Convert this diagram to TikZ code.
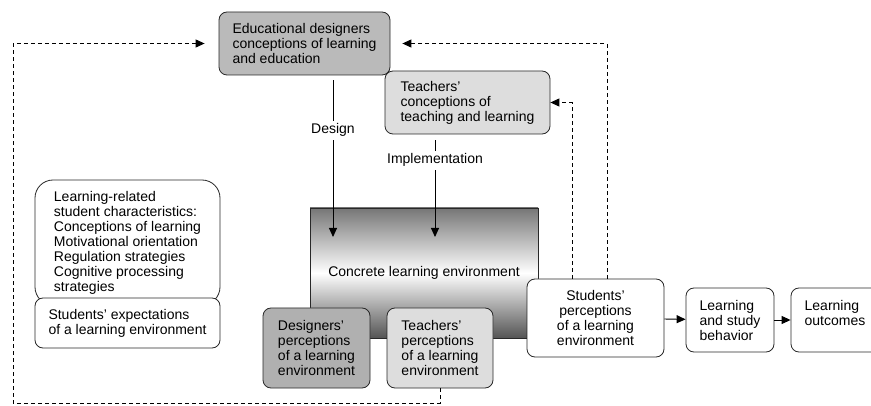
\documentclass[tikz,border=0pt]{standalone}
\usepackage{fontspec}
\setmainfont{Liberation Sans}
\usepackage{xcolor}
\usepackage{tikz}
\usetikzlibrary{arrows.meta, positioning, shadings}
\definecolor{darkbox}{RGB}{186, 186, 186}
\definecolor{midbox}{RGB}{176, 176, 176}
\definecolor{lightbox}{RGB}{221, 221, 221}
\definecolor{shadetop}{RGB}{118, 118, 118}
\definecolor{shadebot}{RGB}{84, 84, 84}
\definecolor{edge}{RGB}{40, 40, 40}

\begin{document}
\begin{tikzpicture}[
    x=1pt, y=-1pt,
    font=\fontsize{14}{15}\selectfont,
    box/.style={rectangle, draw=edge, line width=0.8pt, rounded corners=8pt, fill=#1, align=left, inner sep=0pt},
    box/.default=white,
    lbl/.style={fill=white, inner sep=3pt},
    arrow/.style={-{Triangle[length=9pt, width=8pt]}, line width=0.9pt},
    dasharrow/.style={-{Triangle[length=9pt, width=8pt]}, line width=1pt, dash pattern=on 4pt off 3pt}
]
    \useasboundingbox (0,0) rectangle (871,406);

    % concrete environment in the middle
    \node[rectangle, draw=edge, line width=0.8pt, minimum width=228pt, minimum height=130pt,
          top color=shadetop, bottom color=shadebot, middle color=white] (concrete) at (424,273) {Concrete learning environment};

    % conceptions at the top
    \node[box=darkbox, minimum width=171pt, minimum height=63pt] (edu) at (304.5,43.5) {Educational designers\\conceptions of learning\\and education};
    \node[box=lightbox, minimum width=165pt, minimum height=63pt] (tconc) at (467.5,102.5) {Teachers'\\conceptions of\\teaching and learning};

    % student characteristics
    \node[box, rounded corners=18pt, minimum width=185pt, minimum height=125pt] (learnchar) at (127.5,242.5) {Learning-related\\student characteristics:\\Conceptions of learning\\Motivational orientation\\Regulation strategies\\Cognitive processing\\strategies};
    \node[box, minimum width=185pt, minimum height=50pt] (expect) at (127.5,323) {Students' expectations\\of a learning environment};

    % perceptions
    \node[box=midbox, minimum width=107pt, minimum height=80pt] (dpercep) at (316.5,348) {Designers'\\perceptions\\of a learning\\environment};
    \node[box=lightbox, minimum width=106pt, minimum height=80pt] (tpercep) at (440,348) {Teachers'\\perceptions\\of a learning\\environment};
    \node[box, align=center, minimum width=137pt, minimum height=78pt] (spercep) at (595.5,318) {Students'\\perceptions\\of a learning\\environment};
    \node[box, minimum width=88pt, minimum height=64pt] (behav) at (730,320) {Learning\\and study\\behavior};
    \node[box, minimum width=88pt, minimum height=64pt] (outcome) at (835,320) {Learning\\outcomes\\\phantom{x}};

    \coordinate (dtip) at (333,237);
    \coordinate (itip) at (435,237);
    \coordinate (loopL) at (13,403);

    \draw[arrow, shorten <=5pt] (edu.south -| dtip) -- node[lbl, pos=0.34] {Design} (dtip);
    \draw[arrow, shorten <=6pt] (tconc.south -| itip) -- node[lbl, pos=0.25] {Implementation} (itip);
    \draw[arrow] (spercep) -- (behav);
    \draw[arrow] (behav) -- (outcome);

    \draw[dasharrow, shorten >=14pt] (tpercep.south) |- (loopL) |- (edu.west);
    \draw[dasharrow, shorten >=12pt] ([xshift=11.5pt]spercep.north) |- (edu.east);
    \draw[dasharrow] ([xshift=-23.5pt]spercep.north) |- (tconc.east);
\end{tikzpicture}
\end{document}
